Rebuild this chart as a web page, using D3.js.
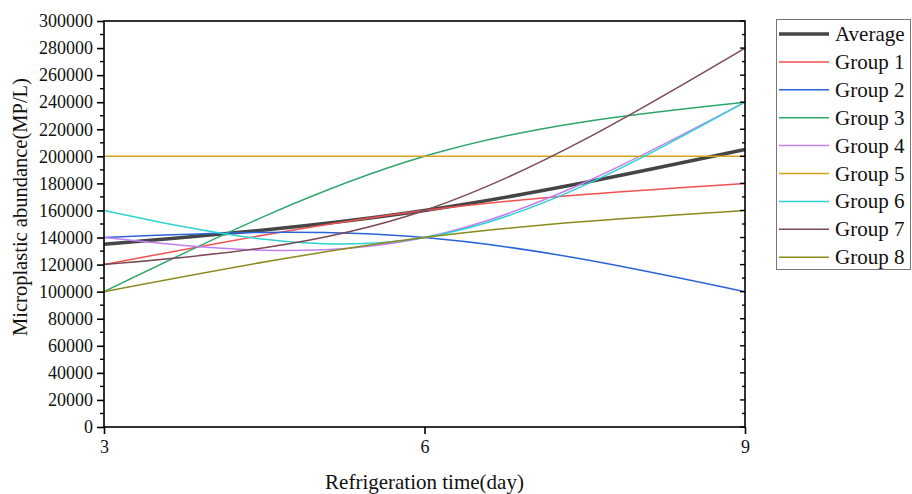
<!DOCTYPE html>
<html>
<head>
<meta charset="utf-8">
<script src="https://cdn.jsdelivr.net/npm/d3@7"></script>
<style>
  body { margin: 0; background: #fff; }
  svg { display: block; }
</style>
</head>
<body>
<div id="chart"></div>
<script>
// refrigeration days
const days = [3, 6, 9];

// microplastic abundance (MP/L) for each series
const average = [135000, 160000, 205000];
const group1 = [120000, 160000, 180000];
const group2 = [140000, 140000, 100000];
const group3 = [100000, 200000, 240000];
const group4 = [140000, 140000, 240000];
const group5 = [200000, 200000, 200000];
const group6 = [160000, 140000, 240000];
const group7 = [120000, 160000, 280000];
const group8 = [100000, 140000, 160000];

const seriesNames = ["Average", "Group 1", "Group 2", "Group 3", "Group 4",
                     "Group 5", "Group 6", "Group 7", "Group 8"];
const seriesValues = [average, group1, group2, group3, group4,
                      group5, group6, group7, group8];
const seriesColors = ["#454545", "#f05050", "#2b63d8", "#2ca66b", "#c27ff0",
                      "#d6a21e", "#2fd2d2", "#7b4a55", "#8a8a1c"];

const yMajorTicks = d3.range(0, 300001, 20000);
const yMinorTicks = d3.range(10000, 300000, 20000);

const width = 912;
const height = 494;
const margin = { top: 21, right: 167, bottom: 67, left: 104 };
const font = "'Liberation Serif', 'Times New Roman', serif";

const svg = d3.select("#chart")
              .append("svg")
              .attr("width", width)
              .attr("height", height);

const x = d3.scaleLinear()
            .domain([3, 9])
            .range([margin.left, width - margin.right]);

const y = d3.scaleLinear()
            .domain([0, 300000])
            .range([height - margin.bottom, margin.top]);

// series lines (spline through the three points)
const line = d3.line()
               .x((d, i) => x(days[i]))
               .y(d => y(d))
               .curve(d3.curveNatural);

seriesValues.forEach((vals, k) => {
    svg.append("path")
       .datum(vals)
       .attr("d", line)
       .attr("fill", "none")
       .attr("stroke", seriesColors[k])
       .attr("stroke-width", k === 0 ? 3.6 : 1.5);
});

// frame
svg.append("rect")
   .attr("x", x(3))
   .attr("y", y(300000))
   .attr("width", x(9) - x(3))
   .attr("height", y(0) - y(300000))
   .attr("fill", "none")
   .attr("stroke", "#000")
   .attr("stroke-width", 1.6);

// left axis
const yAxis = d3.axisLeft(y)
                .tickValues(yMajorTicks)
                .tickSize(7)
                .tickPadding(4)
                .tickFormat(d3.format("d"));
const gy = svg.append("g")
              .attr("transform", `translate(${x(3)},0)`)
              .call(yAxis);
gy.select(".domain").remove();
gy.selectAll("line").attr("stroke-width", 1.6);
gy.selectAll("text")
  .attr("font-family", font)
  .attr("font-size", 18)
  .attr("fill", "#111");

svg.append("g")
   .selectAll("line")
   .data(yMinorTicks)
   .join("line")
   .attr("x1", x(3) - 4)
   .attr("x2", x(3))
   .attr("y1", d => y(d))
   .attr("y2", d => y(d))
   .attr("stroke", "#000")
   .attr("stroke-width", 1.4);

// right axis ticks (inward)
svg.append("g")
   .selectAll("line")
   .data(yMajorTicks.concat(yMinorTicks))
   .join("line")
   .attr("x1", d => x(9) - (d % 20000 === 0 ? 5 : 3))
   .attr("x2", x(9))
   .attr("y1", d => y(d))
   .attr("y2", d => y(d))
   .attr("stroke", "#000")
   .attr("stroke-width", 1.4);

// bottom axis
const xAxis = d3.axisBottom(x)
                .tickValues(days)
                .tickSize(7)
                .tickPadding(6)
                .tickFormat(d3.format("d"));
const gx = svg.append("g")
              .attr("transform", `translate(0,${y(0)})`)
              .call(xAxis);
gx.select(".domain").remove();
gx.selectAll("line").attr("stroke-width", 1.6);
gx.selectAll("text")
  .attr("font-family", font)
  .attr("font-size", 18)
  .attr("fill", "#111");

// axis titles
svg.append("text")
   .attr("x", (x(3) + x(9)) / 2)
   .attr("y", 489)
   .attr("text-anchor", "middle")
   .attr("font-family", font)
   .attr("font-size", 21)
   .attr("fill", "#111")
   .text("Refrigeration time(day)");

svg.append("text")
   .attr("transform", "translate(27,207) rotate(-90)")
   .attr("text-anchor", "middle")
   .attr("font-family", font)
   .attr("font-size", 20.5)
   .attr("fill", "#111")
   .text("Microplastic abundance(MP/L)");

// legend
const legend = svg.append("g");
legend.append("rect")
      .attr("x", 776.5)
      .attr("y", 19.5)
      .attr("width", 134)
      .attr("height", 250)
      .attr("fill", "#fff")
      .attr("stroke", "#777")
      .attr("stroke-width", 1);

seriesNames.forEach((name, k) => {
    const ly = 34 + k * 27.9;
    legend.append("line")
          .attr("x1", 779)
          .attr("x2", 829)
          .attr("y1", ly)
          .attr("y2", ly)
          .attr("stroke", seriesColors[k])
          .attr("stroke-width", k === 0 ? 3.6 : 1.5);
    legend.append("text")
          .attr("x", 835)
          .attr("y", ly + 7)
          .attr("font-family", font)
          .attr("font-size", 21)
          .attr("fill", "#111")
          .text(name);
});
</script>
</body>
</html>
